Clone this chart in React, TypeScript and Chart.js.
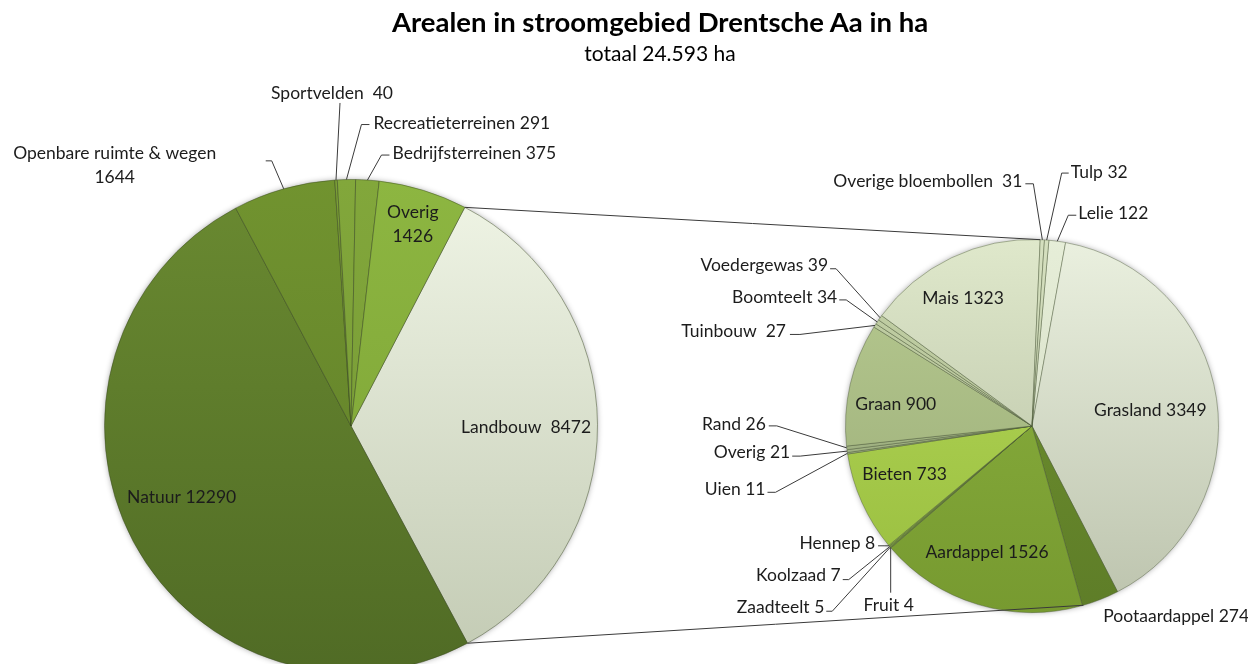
import React, { useEffect, useRef } from "react";
import { Chart, registerables } from "chart.js";
Chart.register(...registerables);

// ---------- data ----------
const mainLabels = ["Landbouw", "Natuur", "Openbare ruimte & wegen", "Sportvelden", "Recreatieterreinen", "Bedrijfsterreinen", "Overig"];
const mainValues = [8472, 12290, 1644, 40, 291, 375, 1426];

const subLabels = ["Lelie", "Grasland", "Pootaardappel", "Aardappel", "Fruit", "Zaadteelt", "Koolzaad", "Hennep", "Bieten", "Uien", "Overig", "Rand", "Graan", "Tuinbouw", "Boomteelt", "Voedergewas", "Mais", "Overige bloembollen", "Tulp"];
const subValues = [122, 3349, 274, 1526, 4, 5, 7, 8, 733, 11, 21, 26, 900, 27, 34, 39, 1323, 31, 32];

const titleText = "Arealen in stroomgebied Drentsche Aa in ha";
const subtitleText = "totaal 24.593 ha";

// ---------- styles ----------
const FONT = "17.5px Lato";
const TEXT = "#1c1c1c";
const LINE = "#3a3a3a";

const mainColors: [string, string][] = [
  ["#f0f5e6", "#c2cab3"], // Landbouw
  ["#6a8a31", "#506b25"], // Natuur
  ["#71932f", "#5e7c29"], // Openbare
  ["#7c9f37", "#6c8c30"], // Sportvelden
  ["#82a73b", "#739634"], // Recreatie
  ["#82a73b", "#739634"], // Bedrijfs
  ["#8db641", "#7aa034"], // Overig
];
const subColors: [string, string][] = [
  ["#e6eed8", "#d0d8c0"], // Lelie
  ["#eaf0df", "#bcc3ad"], // Grasland
  ["#71932f", "#5e7d28"], // Poot
  ["#8cb240", "#779a30"], // Aardappel
  ["#98bf48", "#8ab03e"],
  ["#98bf48", "#8ab03e"],
  ["#98bf48", "#8ab03e"],
  ["#98bf48", "#8ab03e"],
  ["#b6d95a", "#98bd3e"], // Bieten
  ["#a8ba8a", "#9aab7c"],
  ["#a8ba8a", "#9aab7c"],
  ["#a8ba8a", "#9aab7c"],
  ["#b8cb91", "#98aa76"], // Graan
  ["#c3d1a6", "#aebb92"],
  ["#c3d1a6", "#aebb92"],
  ["#c3d1a6", "#aebb92"],
  ["#dfe8cb", "#b3bca0"], // Mais
  ["#d5e0bf", "#c0caa9"],
  ["#d5e0bf", "#c0caa9"],
];

type Spec =
  | { kind: "in"; frac: number; shift: number; sep?: string; breakLine?: boolean }
  | { kind: "out"; elbow: [number, number] | null; tick: number; text: [number, number]; align: CanvasTextAlign; sep?: string; breakLine?: boolean };

const mainSpecs: Spec[] = [
  { kind: "in", frac: 0.71, shift: 0.7, sep: "  " },
  { kind: "in", frac: 0.745, shift: 5.3 },
  { kind: "out", elbow: [-12, -28], tick: -6, text: [-151, 5], align: "center", breakLine: true },
  { kind: "out", elbow: [4, -77], tick: 0, text: [-8, -10], align: "center", sep: "  " },
  { kind: "out", elbow: [15, -55], tick: 8, text: [4, -1], align: "left" },
  { kind: "out", elbow: [14, -25], tick: 8, text: [3, -2], align: "left" },
  { kind: "in", frac: 0.855, shift: 0, breakLine: true },
];

const subSpecs: Spec[] = [
  { kind: "out", elbow: [11, -26], tick: 8, text: [2, -2], align: "left" }, // Lelie
  { kind: "in", frac: 0.64, shift: 0.8 }, // Grasland
  { kind: "out", elbow: null, tick: 0, text: [3, 17], align: "left" }, // Poot
  { kind: "in", frac: 0.72, shift: 2.8 }, // Aardappel
  { kind: "out", elbow: [0, 45], tick: 0, text: [-2, 13], align: "center" }, // Fruit
  { kind: "out", elbow: [-58, 64], tick: -6, text: [-2, -4], align: "right" }, // Zaadteelt
  { kind: "out", elbow: [-41, 33], tick: -6, text: [-2, -4], align: "right" }, // Koolzaad
  { kind: "out", elbow: [-5, 0], tick: -6, text: [-3, -2], align: "right" }, // Hennep
  { kind: "in", frac: 0.73, shift: 3.5 }, // Bieten
  { kind: "out", elbow: [-72, 39], tick: -8, text: [-2, -3], align: "right" }, // Uien
  { kind: "out", elbow: [-47, 5], tick: -8, text: [-2, -4], align: "right" }, // Overig
  { kind: "out", elbow: [-70, -22], tick: -8, text: [-3, -2], align: "right" }, // Rand
  { kind: "in", frac: 0.74, shift: -3.8 }, // Graan
  { kind: "out", elbow: [-75, 9], tick: -10, text: [-4, -3], align: "right", sep: "  " }, // Tuinbouw
  { kind: "out", elbow: [-31, -22], tick: -7, text: [-2, -3], align: "right" }, // Boomteelt
  { kind: "out", elbow: [-44, -49], tick: -6, text: [-2, -3], align: "right" }, // Voedergewas
  { kind: "in", frac: 0.78, shift: -2.7 }, // Mais
  { kind: "out", elbow: [-9, -56], tick: -8, text: [-3, -2], align: "right", sep: "  " }, // Overige bloembollen
  { kind: "out", elbow: [15, -67], tick: 7, text: [2, -1], align: "left" }, // Tulp
];

// connector end points on the second pie, degrees clockwise from top
const CONNECT_TOP_DEG = 2.5;
const CONNECT_BOTTOM_DEG = 164;

function gradientColors(colors: [string, string][]) {
  return (c: any) => {
    const i = c.dataIndex ?? 0;
    const chart = c.chart;
    const area = chart.chartArea;
    const pair = colors[i] || colors[0];
    if (!area) return pair[0];
    const g = chart.ctx.createLinearGradient(0, area.top, 0, area.bottom);
    g.addColorStop(0, pair[0]);
    g.addColorStop(1, pair[1]);
    return g;
  };
}

function makeShadowPlugin() {
  return {
    id: "pieShadow",
    beforeDatasetsDraw(chart: any) {
      const arc = chart.getDatasetMeta(0).data[0];
      if (!arc) return;
      const { x, y, outerRadius } = arc.getProps(["x", "y", "outerRadius"], true);
      const ctx = chart.ctx;
      ctx.save();
      ctx.shadowColor = "rgba(0,0,0,0.45)";
      ctx.shadowBlur = 6;
      ctx.fillStyle = "#9a9a9a";
      ctx.beginPath();
      ctx.arc(x, y, outerRadius - 1, 0, Math.PI * 2);
      ctx.fill();
      ctx.restore();
    },
  };
}

function makeLabelPlugin(labels: string[], values: number[], specs: Spec[]) {
  return {
    id: "pieLabels",
    afterDatasetsDraw(chart: any) {
      const meta = chart.getDatasetMeta(0);
      const ctx: CanvasRenderingContext2D = chart.ctx;
      ctx.save();
      ctx.font = FONT;
      ctx.fillStyle = TEXT;
      ctx.strokeStyle = LINE;
      ctx.lineWidth = 1;
      ctx.textBaseline = "middle";
      meta.data.forEach((arc: any, i: number) => {
        const spec = specs[i];
        if (!spec) return;
        const { x, y, startAngle, endAngle, outerRadius } = arc.getProps(["x", "y", "startAngle", "endAngle", "outerRadius"], true);
        const mid = (startAngle + endAngle) / 2;
        const lines = spec.breakLine ? [labels[i], String(values[i])] : [labels[i] + (spec.sep ?? " ") + values[i]];
        let tx: number, ty: number, align: CanvasTextAlign;
        if (spec.kind === "in") {
          const a = mid + (spec.shift * Math.PI) / 180;
          tx = x + Math.cos(a) * outerRadius * spec.frac;
          ty = y + Math.sin(a) * outerRadius * spec.frac;
          align = "center";
        } else {
          const ex = x + Math.cos(mid) * outerRadius;
          const ey = y + Math.sin(mid) * outerRadius;
          let px = ex, py = ey;
          if (spec.elbow) {
            const bx = ex + spec.elbow[0];
            const by = ey + spec.elbow[1];
            ctx.beginPath();
            ctx.moveTo(ex, ey);
            ctx.lineTo(bx, by);
            if (spec.tick) ctx.lineTo(bx + spec.tick, by);
            ctx.stroke();
            px = bx + spec.tick;
            py = by;
          }
          tx = px + spec.text[0];
          ty = py + spec.text[1];
          align = spec.align;
        }
        ctx.textAlign = align;
        const lh = 24;
        lines.forEach((ln, k) => {
          ctx.fillText(ln, tx, ty + (k - (lines.length - 1) / 2) * lh);
        });
      });
      ctx.restore();
    },
  };
}

function makeConnectorPlugin(getMain: () => Chart | null) {
  return {
    id: "connectors",
    afterDraw(chart: any) {
      const main = getMain() as any;
      if (!main) return;
      const big = main.getDatasetMeta(0).data[0]; // Landbouw
      const small = chart.getDatasetMeta(0).data[0];
      if (!big || !small) return;
      const b = big.getProps(["x", "y", "startAngle", "endAngle", "outerRadius"], true);
      const s = small.getProps(["x", "y", "outerRadius"], true);
      const toRad = (d: number) => ((d - 90) * Math.PI) / 180;
      const ctx: CanvasRenderingContext2D = chart.ctx;
      ctx.save();
      ctx.strokeStyle = LINE;
      ctx.lineWidth = 1;
      ctx.beginPath();
      ctx.moveTo(b.x + Math.cos(b.startAngle) * b.outerRadius, b.y + Math.sin(b.startAngle) * b.outerRadius);
      ctx.lineTo(s.x + Math.cos(toRad(CONNECT_TOP_DEG)) * s.outerRadius, s.y + Math.sin(toRad(CONNECT_TOP_DEG)) * s.outerRadius);
      ctx.moveTo(b.x + Math.cos(b.endAngle) * b.outerRadius, b.y + Math.sin(b.endAngle) * b.outerRadius);
      ctx.lineTo(s.x + Math.cos(toRad(CONNECT_BOTTOM_DEG)) * s.outerRadius, s.y + Math.sin(toRad(CONNECT_BOTTOM_DEG)) * s.outerRadius);
      ctx.stroke();
      ctx.restore();
    },
  };
}

const W = 1248;
const H = 680;

export default function App() {
  const mainRef = useRef<HTMLCanvasElement>(null);
  const subRef = useRef<HTMLCanvasElement>(null);

  useEffect(() => {
    let mainChart: Chart | null = null;
    mainChart = new Chart(mainRef.current!, {
      type: "pie",
      data: {
        labels: mainLabels,
        datasets: [
          {
            data: mainValues,
            backgroundColor: gradientColors(mainColors) as any,
            borderColor: "rgba(55,70,30,0.45)",
            borderWidth: 1,
            hoverOffset: 0,
            offset: 0,
          },
        ],
      },
      options: {
        responsive: false,
        animation: false,
        events: [],
        rotation: 27.5,
        layout: { padding: { left: 96, top: 171, right: W - 590, bottom: H - 665 } },
        plugins: { legend: { display: false }, tooltip: { enabled: false }, title: { display: false } },
      },
      plugins: [makeShadowPlugin(), makeLabelPlugin(mainLabels, mainValues, mainSpecs)],
    });

    const subChart = new Chart(subRef.current!, {
      type: "pie",
      data: {
        labels: subLabels,
        datasets: [
          {
            data: subValues,
            backgroundColor: gradientColors(subColors) as any,
            borderColor: "rgba(70,85,50,0.4)",
            borderWidth: 1,
            hoverOffset: 0,
            offset: 0,
          },
        ],
      },
      options: {
        responsive: false,
        animation: false,
        events: [],
        rotation: 5.2,
        layout: { padding: { left: 837, top: 231, right: W - 1211, bottom: H - 605 } },
        plugins: { legend: { display: false }, tooltip: { enabled: false }, title: { display: false } },
      },
      plugins: [makeShadowPlugin(), makeLabelPlugin(subLabels, subValues, subSpecs), makeConnectorPlugin(() => mainChart)],
    });

    return () => {
      subChart.destroy();
      mainChart && mainChart.destroy();
    };
  }, []);

  return (
    <div style={{ position: "relative", width: W, height: 656, overflow: "hidden", fontFamily: "Lato, sans-serif", color: "#000" }}>
      <canvas ref={mainRef} width={W} height={H} style={{ position: "absolute", left: 0, top: 0 }} />
      <canvas ref={subRef} width={W} height={H} style={{ position: "absolute", left: 0, top: 0 }} />
      <div style={{ position: "absolute", left: 652, top: -1, transform: "translateX(-50%)", whiteSpace: "nowrap", fontSize: 27.5, fontWeight: 700, lineHeight: "30px" }}>
        {titleText}
      </div>
      <div style={{ position: "absolute", left: 652, top: 33, transform: "translateX(-50%)", whiteSpace: "nowrap", fontSize: 21, lineHeight: "24px" }}>
        {subtitleText}
      </div>
    </div>
  );
}
